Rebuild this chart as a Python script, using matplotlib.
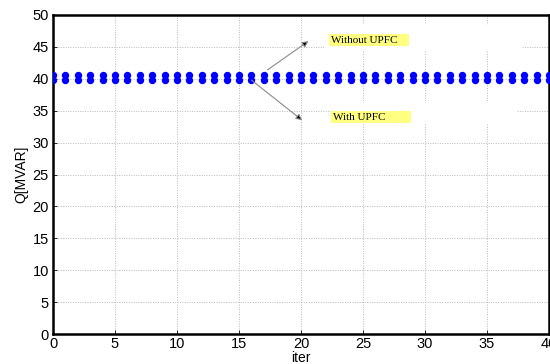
import matplotlib
matplotlib.use("Agg")
import matplotlib.pyplot as plt
from matplotlib.patches import Rectangle

# ---- data ----
iterations = [0, 1, 2, 3, 4, 5, 6, 7, 8, 9, 10, 11, 12, 13, 14, 15, 16, 17, 18, 19, 20,
              21, 22, 23, 24, 25, 26, 27, 28, 29, 30, 31, 32, 33, 34, 35, 36, 37, 38, 39, 40]
q_without_upfc = [40.55, 40.55, 40.55, 40.55, 40.55, 40.55, 40.55, 40.55, 40.55, 40.55, 40.55,
                  40.55, 40.55, 40.55, 40.55, 40.55, 40.55, 40.55, 40.55, 40.55, 40.55,
                  40.55, 40.55, 40.55, 40.55, 40.55, 40.55, 40.55, 40.55, 40.55, 40.55,
                  40.55, 40.55, 40.55, 40.55, 40.55, 40.55, 40.55, 40.55, 40.55, 40.55]
q_with_upfc = [39.85, 39.85, 39.85, 39.85, 39.85, 39.85, 39.85, 39.85, 39.85, 39.85, 39.85,
               39.85, 39.85, 39.85, 39.85, 39.85, 39.85, 39.85, 39.85, 39.85, 39.85,
               39.85, 39.85, 39.85, 39.85, 39.85, 39.85, 39.85, 39.85, 39.85, 39.85,
               39.85, 39.85, 39.85, 39.85, 39.85, 39.85, 39.85, 39.85, 39.85, 39.85]
x_ticks = [0, 5, 10, 15, 20, 25, 30, 35, 40]
y_ticks = [0, 5, 10, 15, 20, 25, 30, 35, 40, 45, 50]
label_without = "Without UPFC"
label_with = "With UPFC"

plt.rcParams['font.family'] = ['Liberation Sans', 'DejaVu Sans']

fig = plt.figure(figsize=(5.5, 3.64), dpi=100)
ax = fig.add_axes([53/550, 30/364, 496/550, 319/364])

ax.plot(iterations, q_without_upfc, linestyle='none', marker='o', ms=4.3,
        color='#0000ff', mec='#0000ff', zorder=3, clip_on=True)
ax.plot(iterations, q_with_upfc, linestyle='none', marker='o', ms=4.3,
        color='#0000ff', mec='#0000ff', zorder=3, clip_on=True)

ax.set_xlim(0, 40)
ax.set_ylim(0, 50)
ax.set_xticks(x_ticks)
ax.set_yticks(y_ticks)
ax.tick_params(direction='in', length=3, width=0.6, labelsize=10.5, pad=3, colors='black')
ax.tick_params(axis='x', pad=2)
ax.set_axisbelow(True)
ax.grid(True, linestyle=(0, (1, 1.5)), color='#b8b8b8', linewidth=0.7)
for s in ax.spines.values():
    s.set_linewidth(1.8)
    s.set_color('black')

ax.set_xlabel('iter', fontsize=10, labelpad=0)
ax.set_ylabel('Q[MVAR]', fontsize=10, labelpad=3)

# white backgrounds of the annotation text boxes
ax.add_patch(Rectangle((21.94, 44.51), 15.88, 3.92, facecolor='white', edgecolor='none', zorder=1.5))
ax.add_patch(Rectangle((22.42, 32.92), 15.0, 3.44, facecolor='white', edgecolor='none', zorder=1.5))
# yellow highlight
ax.add_patch(Rectangle((22.26, 45.14), 6.45, 1.88, facecolor='#ffff80', edgecolor='none', zorder=1.6))
ax.add_patch(Rectangle((22.42, 33.07), 6.45, 1.88, facecolor='#ffff80', edgecolor='none', zorder=1.6))

ax.text(22.4, 46.08, label_without, family=['Liberation Serif', 'DejaVu Serif'], fontsize=8,
        ha='left', va='center', zorder=4)
ax.text(22.58, 34.0, label_with, family=['Liberation Serif', 'DejaVu Serif'], fontsize=8,
        ha='left', va='center', zorder=4)

arrow_kw = dict(arrowstyle='-|>', ec='#8a8a8a', fc='black', lw=0.8, mutation_scale=9,
                shrinkA=0, shrinkB=0)
ax.annotate('', xy=(20.6, 45.9), xytext=(17.3, 41.4), arrowprops=arrow_kw, zorder=4)
ax.annotate('', xy=(20.1, 33.5), xytext=(16.0, 39.8), arrowprops=arrow_kw, zorder=4)

fig.savefig('out.png', dpi=100, facecolor='white')
